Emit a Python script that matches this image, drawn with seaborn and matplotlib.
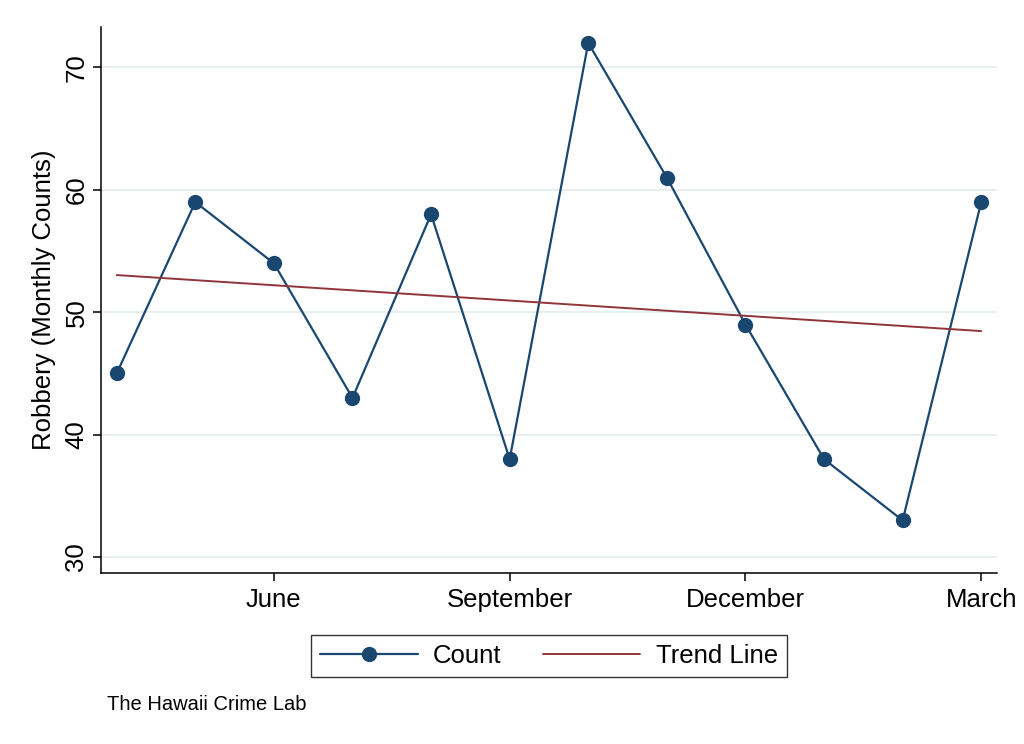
import matplotlib
matplotlib.use("Agg")
import matplotlib.pyplot as plt
import numpy as np
import pandas as pd
import seaborn as sns

# monthly robbery counts, April through March
months = ["April", "May", "June", "July", "August", "September",
          "October", "November", "December", "January", "February", "March"]
counts = [45, 59, 54, 43, 58, 38, 72, 61, 49, 38, 33, 59]
tick_months = ["June", "September", "December", "March"]
y_ticks = [30, 40, 50, 60, 70]

df = pd.DataFrame({"month": months, "idx": range(len(months)), "count": counts})

# linear trend fitted to the counts
slope, intercept = np.polyfit(df["idx"], df["count"], 1)
df["trend"] = intercept + slope * df["idx"]

sns.set_theme(style="white")
plt.rcParams["font.family"] = ["Liberation Sans", "DejaVu Sans"]
plt.rcParams["text.color"] = "black"
plt.rcParams["axes.labelcolor"] = "black"
plt.rcParams["xtick.color"] = "black"
plt.rcParams["ytick.color"] = "black"

navy = "#1a476f"
maroon = "#90353b"
fs = 18.5

fig = plt.figure(figsize=(10.24, 7.44), dpi=100)
ax = fig.add_axes([0.0986, 0.2298, 0.875, 0.7339])

for y in y_ticks:
    ax.axhline(y, color="#e6eef0", lw=1.4, zorder=0)

sns.lineplot(data=df, x="idx", y="count", ax=ax, color=navy, lw=1.6,
             marker="o", markersize=11, markeredgewidth=0, label="Count")
sns.lineplot(data=df, x="idx", y="trend", ax=ax, color=maroon, lw=1.4,
             label="Trend Line")

ax.set_xlim(-0.2, 11.2)
ax.set_ylim(28.7, 73.3)
ax.set_xticks([months.index(m) for m in tick_months])
ax.set_xticklabels(tick_months, fontsize=fs)
ax.set_yticks(y_ticks)
ax.set_yticklabels([str(v) for v in y_ticks], fontsize=fs, rotation=90, va="center")
ax.set_xlabel("")
ax.set_ylabel("Robbery (Monthly Counts)", fontsize=fs, labelpad=6)

for side in ["top", "right"]:
    ax.spines[side].set_visible(False)
for side in ["left", "bottom"]:
    ax.spines[side].set_color("black")
    ax.spines[side].set_linewidth(1.1)
ax.tick_params(axis="both", direction="out", length=6, width=1.1, color="black",
               labelcolor="black", left=True, bottom=True, pad=3)
ax.tick_params(axis="x", pad=5)

ax.get_legend().remove()
handles, labels = ax.get_legend_handles_labels()
leg = fig.legend(handles, labels, loc="center", bbox_to_anchor=(0.536, 0.118),
                 ncol=2, fontsize=fs, frameon=True, fancybox=False,
                 handlelength=3.8, columnspacing=1.6, borderpad=0.35,
                 handletextpad=0.6)
leg.get_frame().set_edgecolor("black")
leg.get_frame().set_linewidth(1.0)

fig.text(107 / 1024, 1 - 710 / 744, "The Hawaii Crime Lab", fontsize=14.5,
         va="baseline", ha="left")

fig.savefig("out.png", dpi=100, facecolor="white")
